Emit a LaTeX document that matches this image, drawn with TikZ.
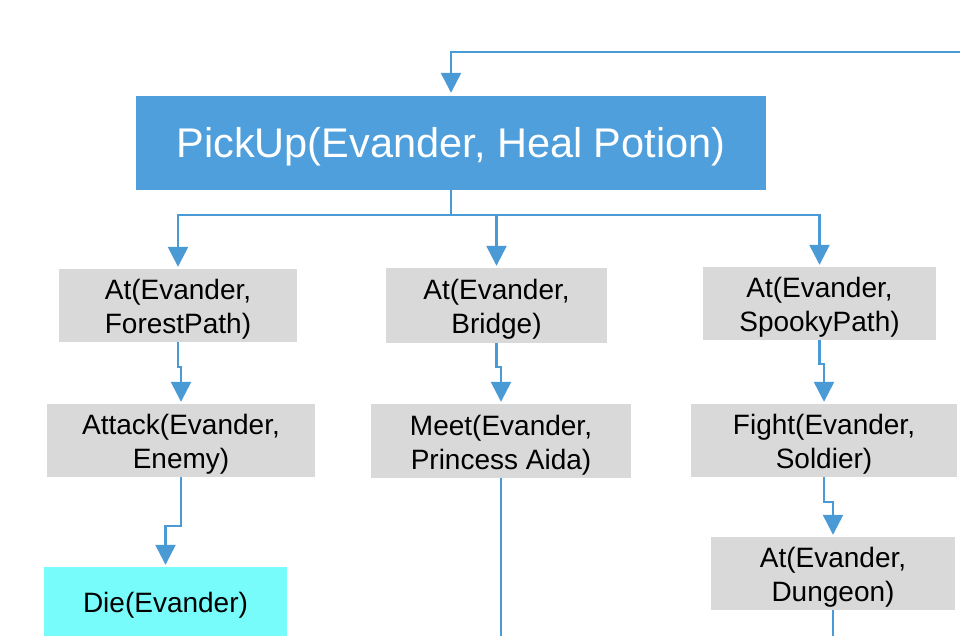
\documentclass[tikz,border=0pt]{standalone}
\usepackage{fontspec}
\setmainfont{Liberation Sans}
\usetikzlibrary{arrows.meta}
\definecolor{lineblue}{HTML}{4A9AD6}
\definecolor{boxblue}{HTML}{4E9FDC}
\definecolor{boxgrey}{HTML}{D9D9D9}
\definecolor{boxcyan}{HTML}{78FBFB}
\newcommand\myStrutG{\rule{0pt}{28pt}}
\begin{document}
\begin{tikzpicture}[x=1pt,y=-1pt,
  greybox/.style={fill=boxgrey, inner sep=0pt, align=center, text=black, font=\fontsize{28}{34}\selectfont},
  bluebox/.style={fill=boxblue, inner sep=0pt, align=center, text=white, font=\fontsize{41.5}{48}\selectfont, execute at begin node={\rule{0pt}{38pt}}},
  cyanbox/.style={fill=boxcyan, inner sep=0pt, align=center, text=black, font=\fontsize{28}{34}\selectfont, execute at begin node={\rule{0pt}{27pt}}},
  conn/.style={draw=lineblue, line width=2.5pt, -{Triangle[width=20pt,length=20pt]}, shorten >=2pt},
  plainconn/.style={draw=lineblue, line width=2.5pt}]
\useasboundingbox (0,0) rectangle (960,636);
\clip (0,0) rectangle (960,636);
\fill[white] (0,0) rectangle (960,636);

\node[bluebox, minimum width=630pt, minimum height=94pt] (pick) at (451,143) {PickUp(Evander, Heal Potion)};

\node[greybox, minimum width=238pt, minimum height=73pt] (fp) at (178,305.5) {\myStrutG At(Evander,\\ForestPath)};
\node[greybox, minimum width=221pt, minimum height=75pt] (br) at (496.5,305.5) {\myStrutG At(Evander,\\Bridge)};
\node[greybox, minimum width=233pt, minimum height=73pt] (sp) at (819.5,303.5) {\myStrutG At(Evander,\\SpookyPath)};

\node[greybox, minimum width=268pt, minimum height=73pt] (att) at (181,440.5) {\myStrutG Attack(Evander,\\Enemy)};
\node[greybox, minimum width=260pt, minimum height=74pt] (meet) at (501,441) {\myStrutG Meet(Evander,\\Princess Aida)};
\node[greybox, minimum width=266pt, minimum height=73pt] (fight) at (824,440.5) {\myStrutG Fight(Evander,\\Soldier)};

\node[cyanbox, minimum width=243pt, minimum height=69pt] (die) at (165.5,601.5) {Die(Evander)};
\node[greybox, minimum width=244pt, minimum height=73pt] (dun) at (833,573.5) {\myStrutG At(Evander,\\Dungeon)};

\coordinate (tr) at (966,52);
\coordinate (mb) at (501,642);
\coordinate (db) at (833,642);

\draw[conn, shorten >=3pt] (tr) -| (pick.north);

\draw[conn] (pick.south) -- ++(0,25) -| (fp.north);
\draw[conn] (pick.south) -- ++(0,25) -| (br.north);
\draw[conn] (pick.south) -- ++(0,25) -| (sp.north);

\draw[conn] (fp.south) -- ++(0,25) -| (att.north);
\draw[conn] (att.south) -- ++(0,49) -| (die.north);
\draw[conn] (br.south) -- ++(0,24) -| (meet.north);
\draw[conn] (sp.south) -- ++(0,24) -| (fight.north);
\draw[conn] (fight.south) -- ++(0,25) -| (dun.north);

\draw[plainconn] (meet.south) -- (mb);
\draw[plainconn] (dun.south) -- (db);
\end{tikzpicture}
\end{document}
